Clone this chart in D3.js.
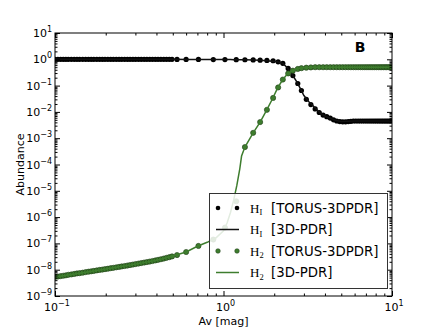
<!DOCTYPE html>
<html>
<head>
<meta charset="utf-8">
<script src="https://cdn.jsdelivr.net/npm/d3@7"></script>
<style>
  body { margin: 0; background: #fff; }
  svg { display: block; font-family: "DejaVu Sans", sans-serif; }
</style>
</head>
<body>
<svg id="chart" width="436" height="329"></svg>
<script>
'use strict';

// TORUS-3DPDR grid (Av in mag) and abundances
var avTorus = [
  0.100,0.104,0.108,0.112,0.116,0.120,0.125,0.130,0.135,0.140,
  0.146,0.152,0.158,0.164,0.170,0.177,0.184,0.191,0.198,0.206,
  0.214,0.222,0.231,0.240,0.249,0.259,0.269,0.279,0.290,0.301,
  0.313,0.325,0.338,0.351,0.365,0.379,0.394,0.409,0.425,0.442,
  0.459,0.477,0.495,
  0.53,0.60,0.71,0.87,1.02,1.19,1.34,1.50,1.65,1.81,1.97,2.11,2.25,2.42,2.58,2.76,
  2.9,3.1,3.3,3.5,3.7,3.9,4.1,4.3,4.5,4.7,4.9,5.1,5.3,5.5,5.7,5.9,6.1,6.3,
  6.5,6.7,6.9,7.1,7.3,7.5,7.7,7.9,8.1,8.3,8.5,8.7,8.9,9.1,9.3,9.5,9.7,9.9
];
var hTorus = [
  1,1,1,1,1,1,1,1,1,1,
  1,1,1,1,1,1,1,1,1,1,
  1,1,1,1,1,1,1,1,1,1,
  1,1,1,1,1,1,1,1,1,1,
  1,1,1,
  0.99,0.99,0.99,0.98,0.98,0.97,0.96,0.95,0.93,0.91,0.88,0.80,0.70,0.45,0.24,0.12,
  0.065,0.030,0.019,0.013,0.0095,0.0076,0.0066,0.0058,0.0050,0.0045,0.0043,0.0042,0.0042,0.0043,0.0044,0.0045,0.0045,0.0045,
  0.0045,0.0045,0.0045,0.0045,0.0045,0.0045,0.0045,0.0045,0.0045,0.0045,0.0045,0.0045,0.0045,0.0045,0.0045,0.0045,0.0045,0.0045
];
var h2Torus = [
  5.3e-9,5.5e-9,5.7e-9,5.9e-9,6.1e-9,6.4e-9,6.6e-9,6.9e-9,7.2e-9,7.4e-9,
  7.7e-9,8.1e-9,8.4e-9,8.7e-9,9.0e-9,9.4e-9,9.8e-9,1.01e-8,1.05e-8,1.09e-8,
  1.14e-8,1.18e-8,1.23e-8,1.28e-8,1.33e-8,1.38e-8,1.44e-8,1.50e-8,1.57e-8,1.64e-8,
  1.71e-8,1.79e-8,1.87e-8,1.95e-8,2.04e-8,2.14e-8,2.25e-8,2.37e-8,2.50e-8,2.65e-8,
  2.82e-8,3.00e-8,3.20e-8,
  3.6e-8,4.7e-8,8.0e-8,1.4e-7,4.0e-7,4.0e-6,4.6e-4,1.6e-3,4.1e-3,1.2e-2,3.4e-2,8.5e-2,0.17,0.29,0.37,0.43,
  0.46,0.48,0.49,0.50,0.50,0.50,0.50,0.50,0.50,0.50,0.50,0.50,0.50,0.50,0.50,0.50,0.50,0.50,
  0.50,0.50,0.50,0.50,0.50,0.50,0.50,0.50,0.50,0.50,0.50,0.50,0.50,0.50,0.50,0.50,0.50,0.50
];

// 3D-PDR curves
var avPdr = [0.1,0.15,0.2,0.3,0.4,0.5,0.6,0.7,0.8,0.9,1.0,1.05,1.1,1.15,1.2,1.25,1.28,1.34,1.5,1.65,
  1.8,1.95,2.1,2.25,2.4,2.55,2.7,2.85,3.0,3.2,3.4,3.6,3.8,4.0,4.3,4.6,5.0,6.0,7.0,8.0,9.0,10.0];
var hPdr = [1,1,1,1,1,1,0.99,0.99,0.99,0.98,0.98,0.98,0.98,0.97,0.97,0.97,0.96,0.96,0.95,0.93,
  0.89,0.84,0.80,0.70,0.47,0.27,0.15,0.08,0.042,0.025,0.017,0.0118,0.0085,0.0070,0.0058,0.0048,0.0043,0.0045,0.0045,0.0045,0.0045,0.0045];
var h2Pdr = [5.3e-9,7.9e-9,1.06e-8,1.63e-8,2.3e-8,3.3e-8,4.7e-8,7.8e-8,1.1e-7,1.6e-7,3e-7,6e-7,1.5e-6,4.5e-6,1.6e-5,7e-5,2.1e-4,4.6e-4,1.6e-3,4.1e-3,
  1.15e-2,3.1e-2,8.3e-2,0.17,0.28,0.36,0.42,0.46,0.48,0.49,0.50,0.50,0.50,0.50,0.50,0.50,0.50,0.50,0.50,0.50,0.50,0.50];

// tick labels (powers of ten)
var yExponents = [-9,-8,-7,-6,-5,-4,-3,-2,-1,0,1];
var xExponents = [-1,0,1];
var minorSteps = [2,3,4,5,6,7,8,9];

var legendItems = [
  {sp: 'H', sub: 'I', rest: '[TORUS-3DPDR]', kind: 'dots', color: '#000'},
  {sp: 'H', sub: 'I', rest: '[3D-PDR]', kind: 'line', color: '#000'},
  {sp: 'H', sub: '2', rest: '[TORUS-3DPDR]', kind: 'dots', color: '#3e7d2e'},
  {sp: 'H', sub: '2', rest: '[3D-PDR]', kind: 'line', color: '#3e7d2e'}
];

var green = '#3e7d2e';
var padL = 55, padR = 392, padT = 33, padB = 296;

var svg = d3.select('#chart');
var x = d3.scaleLog().domain([0.1, 10]).range([padL, padR]);
var y = d3.scaleLog().domain([1e-9, 10]).range([padB, padT]);

var xMajor = xExponents.map(function(e){ return Math.pow(10, e); });
var yMajor = yExponents.map(function(e){ return Math.pow(10, e); });
var xMinor = [], yMinor = [];
xExponents.slice(0, -1).forEach(function(e){
  minorSteps.forEach(function(m){ xMinor.push(m * Math.pow(10, e)); });
});
yExponents.slice(0, -1).forEach(function(e){
  minorSteps.forEach(function(m){ yMinor.push(m * Math.pow(10, e)); });
});

svg.append('clipPath').attr('id', 'clip')
  .append('rect').attr('x', padL).attr('y', padT)
  .attr('width', padR - padL).attr('height', padB - padT);

var plot = svg.append('g').attr('clip-path', 'url(#clip)');

function pts(av, v){
  return av.map(function(a, i){ return {a: a, v: v[i]}; });
}
var curve = d3.line().x(function(d){ return x(d.a); }).y(function(d){ return y(d.v); });

// H (black)
plot.append('g').selectAll('circle').data(pts(avTorus, hTorus)).enter()
  .append('circle')
  .attr('cx', function(d){ return x(d.a); })
  .attr('cy', function(d){ return y(d.v); })
  .attr('r', 2.6).attr('fill', '#000');
plot.append('path').datum(pts(avPdr, hPdr))
  .attr('d', curve).attr('fill', 'none').attr('stroke', '#111').attr('stroke-width', 1.5);

// H2 (green)
plot.append('g').selectAll('circle').data(pts(avTorus, h2Torus)).enter()
  .append('circle')
  .attr('cx', function(d){ return x(d.a); })
  .attr('cy', function(d){ return y(d.v); })
  .attr('r', 2.6).attr('fill', green).attr('stroke', '#1d3a14').attr('stroke-width', 0.6);
plot.append('path').datum(pts(avPdr, h2Pdr))
  .attr('d', curve).attr('fill', 'none').attr('stroke', green).attr('stroke-width', 1.5);

// axes: ticks pointing inward on all four sides
function axis(gen, scale, vals, size, tr){
  svg.append('g').attr('transform', tr)
    .call(gen(scale).tickValues(vals).tickSize(size).tickFormat(''))
    .call(function(g){ g.select('.domain').remove(); g.selectAll('line').attr('stroke', '#000'); });
}
axis(d3.axisBottom, x, xMajor, -5, 'translate(0,' + padB + ')');
axis(d3.axisBottom, x, xMinor, -2.5, 'translate(0,' + padB + ')');
axis(d3.axisTop, x, xMajor, -5, 'translate(0,' + padT + ')');
axis(d3.axisTop, x, xMinor, -2.5, 'translate(0,' + padT + ')');
axis(d3.axisLeft, y, yMajor, -5, 'translate(' + padL + ',0)');
axis(d3.axisLeft, y, yMinor, -2.5, 'translate(' + padL + ',0)');
axis(d3.axisRight, y, yMajor, -5, 'translate(' + padR + ',0)');
axis(d3.axisRight, y, yMinor, -2.5, 'translate(' + padR + ',0)');

svg.append('rect').attr('x', padL).attr('y', padT)
  .attr('width', padR - padL).attr('height', padB - padT)
  .attr('fill', 'none').attr('stroke', '#000').attr('stroke-width', 1);

function pow10(sel, e){
  sel.append('tspan').text('10');
  sel.append('tspan').attr('dy', -5).attr('font-size', 8)
    .text(e < 0 ? '\u2212' + (-e) : String(e));
}

yExponents.forEach(function(e){
  var t = svg.append('text').attr('x', padL - 3).attr('y', y(Math.pow(10, e)) + 4)
    .attr('text-anchor', 'end').attr('font-size', 11).attr('fill', '#000');
  pow10(t, e);
});
xExponents.forEach(function(e){
  var t = svg.append('text').attr('x', x(Math.pow(10, e)) + 2).attr('y', 311)
    .attr('text-anchor', 'middle').attr('font-size', 11).attr('fill', '#000');
  pow10(t, e);
});

svg.append('text').attr('x', (padL + padR) / 2).attr('y', 325)
  .attr('text-anchor', 'middle').attr('font-size', 11).text('Av [mag]');
svg.append('text').attr('transform', 'translate(24,' + ((padT + padB) / 2) + ') rotate(-90)')
  .attr('text-anchor', 'middle').attr('font-size', 11).text('Abundance');

svg.append('text').attr('x', 360).attr('y', 52).attr('text-anchor', 'middle')
  .attr('font-size', 14).attr('font-weight', 'bold').text('B');

// legend
var lg = svg.append('g');
lg.append('rect').attr('x', 209.5).attr('y', 193.5).attr('width', 178).attr('height', 95)
  .attr('fill', '#fff').attr('fill-opacity', 0.85).attr('stroke', '#333').attr('stroke-width', 1);
var rowY = d3.scalePoint().domain(d3.range(legendItems.length)).range([208, 272.5]);
legendItems.forEach(function(it, i){
  var cy = rowY(i);
  if (it.kind === 'dots') {
    [218, 237].forEach(function(cx){
      lg.append('circle').attr('cx', cx).attr('cy', cy).attr('r', 2.3)
        .attr('fill', it.color).attr('stroke', it.color === '#000' ? 'none' : '#1d3a14').attr('stroke-width', 0.5);
    });
  } else {
    lg.append('line').attr('x1', 216).attr('x2', 239).attr('y1', cy).attr('y2', cy)
      .attr('stroke', it.color === '#000' ? '#111' : it.color).attr('stroke-width', 1.5);
  }
  var t = lg.append('text').attr('x', 250).attr('y', cy + 4.5)
    .attr('font-family', '"Liberation Serif", serif').attr('font-size', 13);
  t.append('tspan').text(it.sp);
  t.append('tspan').attr('dy', 2.5).attr('font-size', 8.5).text(it.sub);
  lg.append('text').attr('x', 271).attr('y', cy + 4.5).attr('font-size', 13.3).text(it.rest);
});
</script>
</body>
</html>
